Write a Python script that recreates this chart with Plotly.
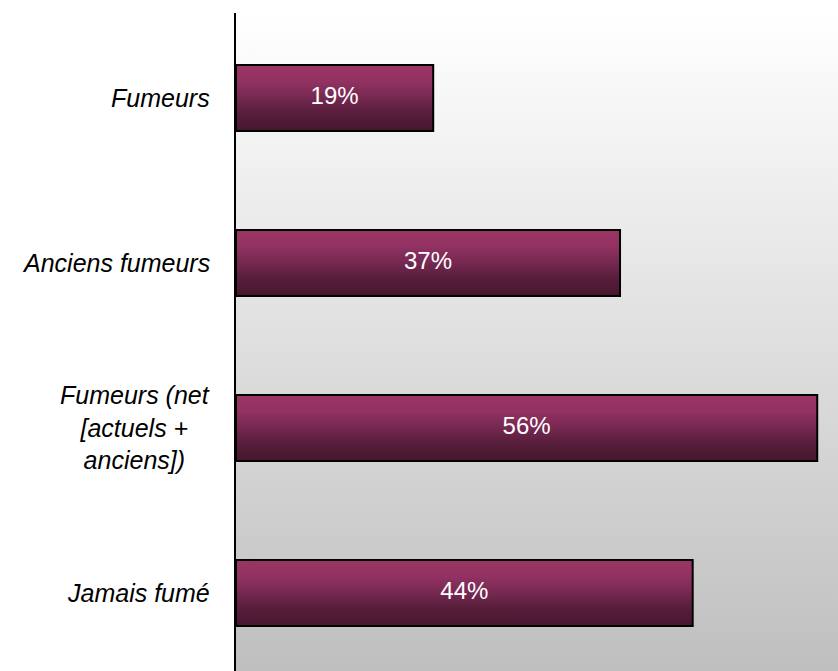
import plotly.graph_objects as go

categories = ["Fumeurs", "Anciens fumeurs", "Fumeurs (net<br>[actuels +<br>anciens])", "Jamais fumé"]
values = [19, 37, 56, 44]
value_labels = ["19%", "37%", "56%", "44%"]

x_max = 58
y_top = -0.515
y_bottom = 3.473
half = 0.2

# gradients run from the lowest y value (drawn at the top, axis is reversed)
bar_scale = [[0, "#47172e"], [0.25, "#561d3a"], [0.5, "#752850"], [0.75, "#923262"], [1, "#9b3563"]]
bg_scale = [[0, "#bfbfbf"], [1, "#ffffff"]]

fig = go.Figure()

# plot area background, white at top -> grey at bottom
fig.add_trace(go.Scatter(
    x=[0, x_max, x_max, 0, 0],
    y=[y_top, y_top, y_bottom, y_bottom, y_top],
    fill="toself", mode="lines", line=dict(width=0),
    fillgradient=dict(type="vertical", colorscale=bg_scale),
    hoverinfo="skip", showlegend=False,
))

for i, v in enumerate(values):
    fig.add_trace(go.Scatter(
        x=[0, v, v, 0, 0],
        y=[i - half, i - half, i + half, i + half, i - half],
        fill="toself", mode="lines", line=dict(color="black", width=2),
        fillgradient=dict(type="vertical", colorscale=bar_scale),
        hoverinfo="skip", showlegend=False,
    ))

fig.add_trace(go.Scatter(
    x=[v / 2 for v in values], y=list(range(len(values))),
    mode="text", text=value_labels,
    textfont=dict(family="Liberation Sans, Arial", size=24, color="white"),
    hoverinfo="skip", showlegend=False,
))

for i, c in enumerate(categories):
    fig.add_annotation(
        x=0, xref="paper", y=i, yref="y", text=c,
        xanchor="right", yanchor="middle", xshift=-24, align="center",
        showarrow=False,
        font=dict(family="Liberation Sans, Arial", size=25, color="black", style="italic"),
    )

fig.update_xaxes(range=[0, x_max], visible=False, showgrid=False, zeroline=False)
fig.update_yaxes(range=[y_bottom, y_top], showgrid=False, zeroline=False,
                 showticklabels=False, ticks="", showline=True,
                 linecolor="black", linewidth=2)

fig.update_layout(
    width=838, height=671,
    margin=dict(l=236, r=0, t=13, b=0),
    paper_bgcolor="white", plot_bgcolor="white",
)

# drop the default 8px page margin so the figure fills the window
fig.write_html("out.html", config={"displayModeBar": False},
               post_script="document.body.style.margin='0';")
